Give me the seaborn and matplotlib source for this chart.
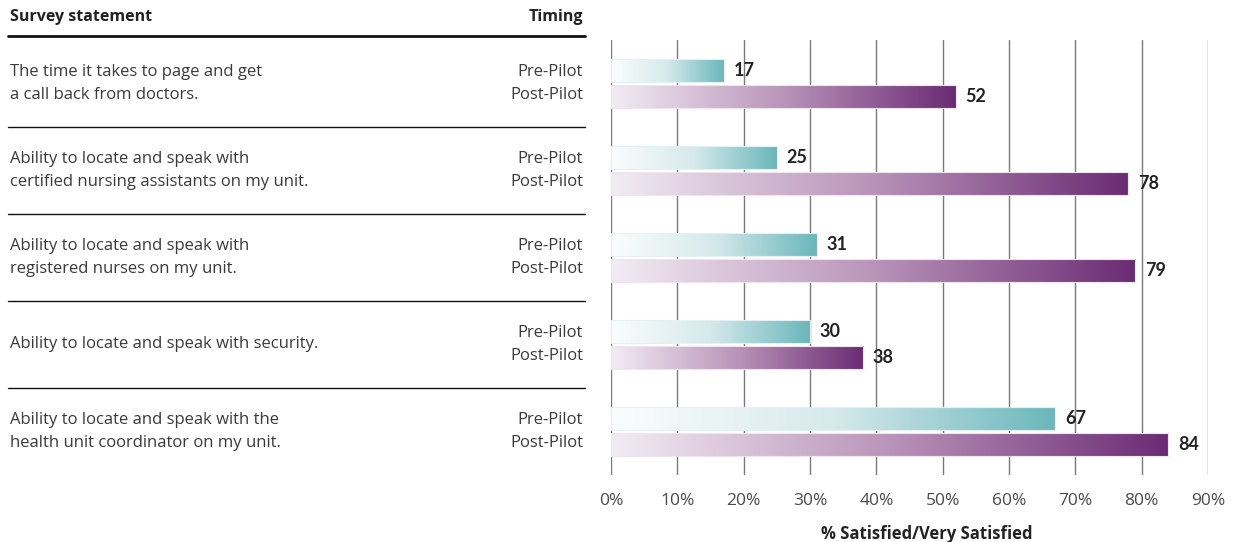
import numpy as np
import pandas as pd
import matplotlib
matplotlib.use("Agg")
import matplotlib.pyplot as plt
import matplotlib.transforms as mtransforms
from matplotlib.colors import LinearSegmentedColormap
import seaborn as sns

# ---- data ----
statements = [
    "The time it takes to page and get\na call back from doctors.",
    "Ability to locate and speak with\ncertified nursing assistants on my unit.",
    "Ability to locate and speak with\nregistered nurses on my unit.",
    "Ability to locate and speak with security.",
    "Ability to locate and speak with the\nhealth unit coordinator on my unit.",
]
timings = ["Pre-Pilot", "Post-Pilot"]
pre_values = [17, 25, 31, 30, 67]
post_values = [52, 78, 79, 38, 84]
x_ticks = [0, 10, 20, 30, 40, 50, 60, 70, 80, 90]
x_tick_labels = [f"{t}%" for t in x_ticks]
header_left = "Survey statement"
header_right = "Timing"
x_label = "% Satisfied/Very Satisfied"

df = pd.DataFrame({
    "statement": statements * 2,
    "timing": [timings[0]] * len(statements) + [timings[1]] * len(statements),
    "value": pre_values + post_values,
})

sns.set_theme(style="white")
plt.rcParams["font.family"] = ["Open Sans", "DejaVu Sans"]
plt.rcParams["font.stretch"] = "normal"

W, H = 1236, 542
fig = plt.figure(figsize=(W / 100, H / 100), dpi=100)
ax = fig.add_axes([611 / W, (H - 475) / H, 597 / W, 435 / H])

sns.barplot(data=df, y="statement", x="value", hue="timing", orient="h",
            order=statements, hue_order=timings, width=0.6, gap=0.1,
            palette=["#6ab7bb", "#6b2b74"], legend=False, ax=ax, zorder=2)

cmaps = {
    0: LinearSegmentedColormap.from_list("teal", ["#fbfdfd", "#d6e9eb", "#6ab7bb"]),
    1: LinearSegmentedColormap.from_list("purp", ["#f2ecf4", "#b994b9", "#6b2b74"]),
}
edgecols = {0: "#e4f1f2", 1: "#efe4f0"}
grad = np.linspace(0, 1, 256).reshape(1, -1)

for ci, cont in enumerate(ax.containers):
    for p in cont.patches:
        x0, y0, w, h = p.get_x(), p.get_y(), p.get_width(), p.get_height()
        p.set_facecolor("none")
        p.set_edgecolor(edgecols[ci])
        p.set_linewidth(0.8)
        p.set_zorder(4)
        im = ax.imshow(grad, extent=[x0, x0 + w, y0 + h, y0], cmap=cmaps[ci],
                       aspect="auto", zorder=3, interpolation="bicubic")
        im.set_clip_path(p)
    ax.bar_label(cont, labels=[f"{v:.0f}" for v in cont.datavalues], padding=7,
                 fontsize=13, fontweight="bold", family=["Lato", "DejaVu Sans"],
                 color="#222222")

ax.set_xlim(0, 90)
ax.set_ylim(len(statements) - 0.5, -0.5)
ax.set_xticks(x_ticks)
ax.set_xticklabels(x_tick_labels)
ax.tick_params(axis="x", length=0, pad=13, labelsize=12.5, labelcolor="#4a4a4a")
ax.tick_params(axis="y", left=False, labelleft=False)
ax.set_ylabel("")
ax.set_xlabel("")
for s in ax.spines.values():
    s.set_visible(False)
ax.xaxis.grid(True, color="#7a7a7a", linewidth=1.0)
ax.set_axisbelow(True)
for gl in ax.get_xgridlines():
    gl.set_zorder(1)

fig.text((927) / W, 1 - 534 / H, x_label, ha="center", va="center",
         fontsize=12, fontweight="bold", fontstretch="normal", color="#222222")

# ---- left table ----
trans = mtransforms.blended_transform_factory(fig.transFigure, ax.transData)
fig.text(10 / W, 1 - 17 / H, header_left, ha="left", va="center",
         fontsize=11.5, fontweight="bold", fontstretch="normal", color="#222222")
fig.text(583 / W, 1 - 17 / H, header_right, ha="right", va="center",
         fontsize=11.5, fontweight="bold", fontstretch="normal", color="#222222")
fig.add_artist(plt.Line2D([8 / W, 585 / W], [1 - 36 / H, 1 - 36 / H],
                          transform=fig.transFigure, color="#111111", lw=2))

for i, st in enumerate(statements):
    fig.text(10 / W, i, st, transform=trans, ha="left", va="center",
             fontsize=12, color="#3a3a3a", linespacing=1.6)
    fig.text(583 / W, i, "\n".join(timings), transform=trans, ha="right",
             va="center", fontsize=12, color="#3a3a3a", linespacing=1.6)
    if i < len(statements) - 1:
        fig.add_artist(plt.Line2D([8 / W, 585 / W], [i + 0.5, i + 0.5],
                                  transform=trans, color="#111111", lw=1))

fig.savefig("out.png", dpi=100)
